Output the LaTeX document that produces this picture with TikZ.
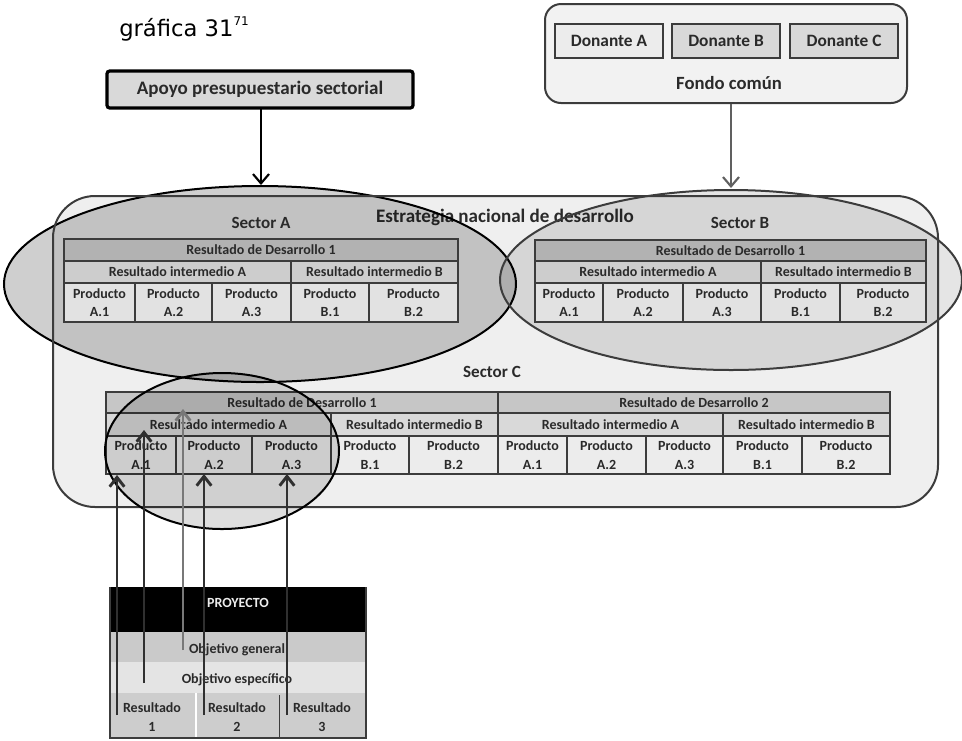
\documentclass[tikz,border=0pt]{standalone}
\usepackage{fontspec}
\setmainfont{Carlito}
\newfontfamily\headfont{DejaVu Sans}
\usetikzlibrary{arrows.meta,calc}

\definecolor{lineD}{HTML}{3C3C3C}
\definecolor{txtc}{HTML}{2A2A2A}
\definecolor{bgE}{HTML}{EFEFEF}
\definecolor{abRowA}{HTML}{B2B2B2}
\definecolor{abRowB}{HTML}{CDCDCD}
\definecolor{abRowC}{HTML}{E2E2E2}
\definecolor{cRowA}{HTML}{C6C6C6}
\definecolor{cRowB}{HTML}{D9D9D9}
\definecolor{cRowC}{HTML}{ECECEC}
\definecolor{boxG}{HTML}{D9D9D9}
\definecolor{boxL}{HTML}{ECECEC}
\definecolor{poolBg}{HTML}{F2F2F2}
\definecolor{objG}{HTML}{CACACA}
\definecolor{objE}{HTML}{E4E4E4}
\definecolor{resG}{HTML}{CDCDCD}
\definecolor{linkD}{HTML}{303030}
\definecolor{linkL}{HTML}{787878}

% one table cell: name, x1, y1, x2, y2, fill, text
\newcommand{\tcell}[7]{%
  \draw[cellgrid, fill=#6] (#2,#3) rectangle (#4,#5);
  \node[txt] (#1) at ($(#2,#3)!0.5!(#4,#5)$) {#7};
}

\begin{document}
\begin{tikzpicture}[x=0.75pt,y=-0.75pt,
  txt/.style={font=\bfseries\fontsize{10.5}{14}\selectfont, text=txtc, align=center, inner sep=0pt},
  cellgrid/.style={draw=lineD, line width=1.4pt},
  sectorname/.style={font=\bfseries\fontsize{12.8}{15}\selectfont, text=txtc, inner sep=0pt},
  barb/.style={-{Straight Barb[length=7pt,width=11pt]}},
  sector/.style={line width=1.5pt, fill=black}
]
\useasboundingbox (0,0) rectangle (962,740);

% title
\node[anchor=base west, inner sep=0pt, text=black] (title) at (119,36)
  {\headfont\fontsize{17}{20}\selectfont gráfica 31\raisebox{8pt}{\fontsize{9}{10}\selectfont 71}};

% national strategy frame
\fill[bgE, rounded corners=31.5pt] (53,196) rectangle (938,507);
\node[font=\bfseries\fontsize{14.3}{16}\selectfont, text=txtc, inner sep=0pt] (estr) at (505,217)
  {Estrategia nacional de desarrollo};

% sectors A and B
\draw[sector, draw=black, fill opacity=0.19] (260,284) ellipse [x radius=256, y radius=98];
\draw[sector, draw=lineD, fill opacity=0.10] (731,280) ellipse [x radius=231, y radius=90];
\draw[lineD, line width=1.5pt, rounded corners=31.5pt] (53,196) rectangle (938,507);

\node[sectorname] (secA) at (261,223) {Sector A};
\node[sectorname] (secB) at (740,223) {Sector B};
\node[sectorname] (secC) at (492,372) {Sector C};

% sector A table
\tcell{aRD}{64}{239}{458}{261}{abRowA}{Resultado de Desarrollo 1}
\tcell{aRIA}{64}{261}{291}{283}{abRowB}{Resultado intermedio A}
\tcell{aRIB}{291}{261}{458}{283}{abRowB}{Resultado intermedio B}
\tcell{aPA1}{64}{283}{135}{322}{abRowC}{Producto\\A.1}
\tcell{aPA2}{135}{283}{212}{322}{abRowC}{Producto\\A.2}
\tcell{aPA3}{212}{283}{291}{322}{abRowC}{Producto\\A.3}
\tcell{aPB1}{291}{283}{369}{322}{abRowC}{Producto\\B.1}
\tcell{aPB2}{369}{283}{458}{322}{abRowC}{Producto\\B.2}

% sector B table
\tcell{bRD}{535}{240}{926}{261}{abRowA}{Resultado de Desarrollo 1}
\tcell{bRIA}{535}{261}{761}{283}{abRowB}{Resultado intermedio A}
\tcell{bRIB}{761}{261}{926}{283}{abRowB}{Resultado intermedio B}
\tcell{bPA1}{535}{283}{603}{322}{abRowC}{Producto\\A.1}
\tcell{bPA2}{603}{283}{683}{322}{abRowC}{Producto\\A.2}
\tcell{bPA3}{683}{283}{761}{322}{abRowC}{Producto\\A.3}
\tcell{bPB1}{761}{283}{840}{322}{abRowC}{Producto\\B.1}
\tcell{bPB2}{840}{283}{926}{322}{abRowC}{Producto\\B.2}

% sector C table
\tcell{cRD1}{106}{392}{498}{413}{cRowA}{Resultado de Desarrollo 1}
\tcell{cRD2}{498}{392}{890}{413}{cRowA}{Resultado de Desarrollo 2}
\tcell{cRIA1}{106}{413}{331}{436}{cRowB}{Resultado intermedio A}
\tcell{cRIB1}{331}{413}{498}{436}{cRowB}{Resultado intermedio B}
\tcell{cRIA2}{498}{413}{723}{436}{cRowB}{Resultado intermedio A}
\tcell{cRIB2}{723}{413}{890}{436}{cRowB}{Resultado intermedio B}
\tcell{cPA1}{106}{436}{176}{474}{cRowC}{Producto\\A.1}
\tcell{cPA2}{176}{436}{252}{474}{cRowC}{Producto\\A.2}
\tcell{cPA3}{252}{436}{331}{474}{cRowC}{Producto\\A.3}
\tcell{cPB1}{331}{436}{409}{474}{cRowC}{Producto\\B.1}
\tcell{cPB2}{409}{436}{498}{474}{cRowC}{Producto\\B.2}
\tcell{dPA1}{498}{436}{567}{474}{cRowC}{Producto\\A.1}
\tcell{dPA2}{567}{436}{646}{474}{cRowC}{Producto\\A.2}
\tcell{dPA3}{646}{436}{723}{474}{cRowC}{Producto\\A.3}
\tcell{dPB1}{723}{436}{802}{474}{cRowC}{Producto\\B.1}
\tcell{dPB2}{802}{436}{890}{474}{cRowC}{Producto\\B.2}

% project focus within sector C
\draw[sector, draw=black, fill opacity=0.13] (222,451) ellipse [x radius=117, y radius=78];

% sector budget support
\draw[black, line width=2.4pt, fill=boxG, rounded corners=2pt] (107,71) rectangle (413,108);
\node[font=\bfseries\fontsize{14.3}{16}\selectfont, text=txtc, inner sep=0pt] (apoyo) at (260,89.5)
  {Apoyo presupuestario sectorial};
\coordinate (apoyoOut) at (261,109);
\coordinate (apoyoIn) at (261,185);
\draw[black, line width=1.6pt, -{Straight Barb[length=7pt,width=12pt]}] (apoyoOut) -- (apoyoIn);

% pooled fund
\draw[lineD, line width=1.5pt, fill=poolBg, rounded corners=12pt] (545,4) rectangle (907,103);
\draw[cellgrid, line width=1.2pt, fill=boxL] (555,24) rectangle (663,58);
\draw[cellgrid, line width=1.2pt, fill=boxG] (672,24) rectangle (780,58);
\draw[cellgrid, line width=1.2pt, fill=boxG] (790,24) rectangle (898,58);
\node[font=\bfseries\fontsize{13}{15}\selectfont, text=txtc, inner sep=0pt] (donA) at (609,41) {Donante A};
\node[font=\bfseries\fontsize{13}{15}\selectfont, text=txtc, inner sep=0pt] (donB) at (726,41) {Donante B};
\node[font=\bfseries\fontsize{13}{15}\selectfont, text=txtc, inner sep=0pt] (donC) at (844,41) {Donante C};
\node[font=\bfseries\fontsize{14}{16}\selectfont, text=txtc, inner sep=0pt] (fondo) at (729,83) {Fondo común};
\coordinate (fondoOut) at (731,104);
\coordinate (fondoIn) at (731,188);
\draw[linkL!80!black, line width=1.6pt, -{Straight Barb[length=7pt,width=12pt]}] (fondoOut) -- (fondoIn);

% project table
\fill[black] (110,587) rectangle (366,632);
\node[font=\bfseries\fontsize{10.5}{12}\selectfont, text=white!85!gray, inner sep=0pt] (proy) at (238,603) {PROYECTO};
\fill[objG] (110,632) rectangle (366,662);
\fill[objE] (110,662) rectangle (366,693);
\fill[resG] (110,693) rectangle (366,738);
\draw[white, line width=1.5pt] (196,693) -- (196,738);
\draw[lineD, line width=0.9pt] (279.5,695) -- (279.5,738);
\draw[lineD, line width=0.9pt] (110,587) -- (110,738) -- (366,738) -- (366,587);
\node[txt] (objG) at (237,650) {Objetivo general};
\node[txt] (objE) at (237,680) {Objetivo específico};
\node[txt] (res1) at (152,717) {Resultado\\1};
\node[txt] (res2) at (237,717) {Resultado\\2};
\node[txt] (res3) at (322,717) {Resultado\\3};

% links from the project to sector C
\coordinate (l1s) at (117,715);
\coordinate (l1e) at (117,475);
\coordinate (l2s) at (144,683);
\coordinate (l2e) at (144,430);
\coordinate (l3s) at (183,650);
\coordinate (l3e) at (183,409);
\coordinate (l4s) at (204,715);
\coordinate (l4e) at (204,474);
\coordinate (l5s) at (287,715);
\coordinate (l5e) at (287,474);
\draw[linkD, line width=2.2pt, barb] (l1s) -- (l1e);
\draw[linkD, line width=2.2pt, barb] (l2s) -- (l2e);
\draw[linkL, line width=2.2pt, barb] (l3s) -- (l3e);
\draw[linkD, line width=2.2pt, barb] (l4s) -- (l4e);
\draw[linkD, line width=2.2pt, barb] (l5s) -- (l5e);
\end{tikzpicture}
\end{document}
